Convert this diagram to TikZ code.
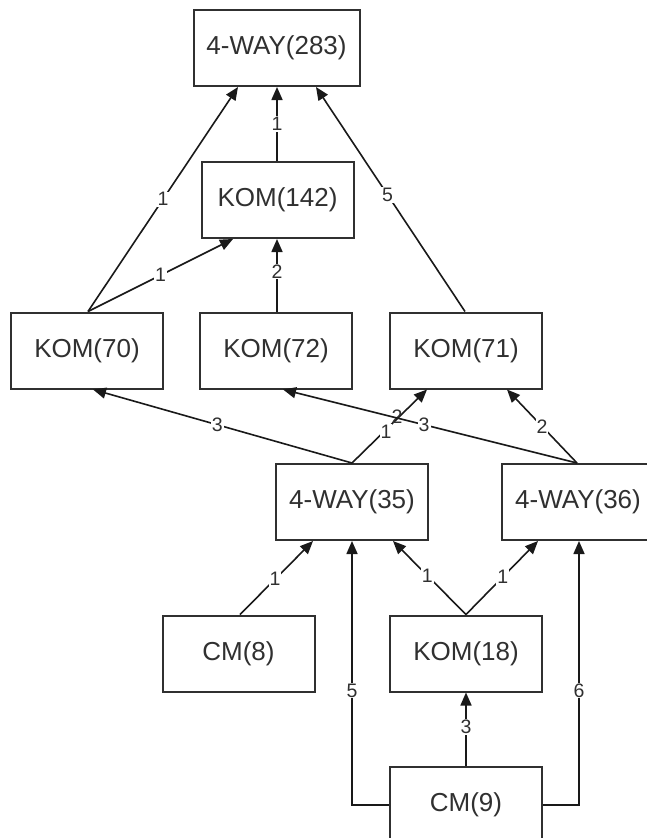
\documentclass[tikz,border=0pt]{standalone}
\usepackage{fontspec}
\setmainfont{Liberation Sans}
\usetikzlibrary{arrows.meta}
\definecolor{ink}{HTML}{303030}
\tikzset{
  box/.style={draw=ink, line width=2pt, fill=white, minimum width=152pt,
    minimum height=76pt, inner sep=0pt, text=ink, font=\fontsize{26}{30}\selectfont},
  link/.style={draw=black!90, line width=1.6pt,
    -{Triangle[length=13pt,width=11pt]}},
  lbl/.style={fill=white, inner sep=1pt, text=ink, font=\fontsize{19.5}{22}\selectfont},
}
\begin{document}
\begin{tikzpicture}[x=1pt,y=-1pt]
\useasboundingbox (0,0) rectangle (647,838);

% nodes
\node[box, minimum width=166pt] (n283) at (276.5,48) {4-WAY(283)};
\node[box] (k142) at (277.5,200) {KOM(142)};
\node[box] (k70) at (87,350.5) {KOM(70)};
\node[box] (k72) at (276,350.5) {KOM(72)};
\node[box] (k71) at (466,350.5) {KOM(71)};
\node[box] (w35) at (352,502) {4-WAY(35)};
\node[box] (w36) at (578,502) {4-WAY(36)};
\node[box] (cm8) at (238.5,653.5) {CM(8)};
\node[box] (k18) at (466,653.5) {KOM(18)};
\node[box] (cm9) at (466,805) {CM(9)};

% upper level
\draw[link] ([xshift=1pt]k70.north) -- node[lbl,pos=0.5]{1} ([xshift=-38.5pt]n283.south);
\draw[link] ([xshift=1pt]k70.north) -- node[lbl,pos=0.5]{1} ([xshift=-44.5pt]k142.south);
\draw[link] ([xshift=1pt]k72.north) -- node[lbl,pos=0.55]{2} ([xshift=-0.5pt]k142.south);
\draw[link] ([xshift=-0.5pt]k142.north) -- node[lbl,pos=0.5]{1} ([xshift=0.5pt]n283.south);
\draw[link] ([xshift=-1pt]k71.north) -- node[lbl,pos=0.52]{5} ([xshift=39.5pt]n283.south);

% middle level
\draw[link] (w35.north) -- node[lbl,pos=0.4,xshift=4pt,yshift=2pt]{1}
  node[text=ink,font=\fontsize{19.5}{22}\selectfont,inner sep=0pt,pos=0.6,yshift=2pt]{2}
  ([xshift=-39pt]k71.south);
\draw[link] (w35.north) -- node[lbl,pos=0.52]{3} ([xshift=6pt]k70.south);
\draw[link] ([xshift=-1pt]w36.north) -- node[lbl,pos=0.52]{3} ([xshift=7pt]k72.south);
\draw[link] ([xshift=-1pt]w36.north) -- node[lbl,pos=0.5]{2} ([xshift=41pt]k71.south);

% lower level
\draw[link] ([xshift=1.5pt]cm8.north) -- node[lbl,pos=0.48]{1} ([xshift=-39pt]w35.south);
\draw[link] (k18.north) -- node[lbl,pos=0.53]{1} ([xshift=41pt]w35.south);
\draw[link] (k18.north) -- node[lbl,pos=0.51]{1} ([xshift=-40pt]w36.south);
\draw[link] (cm9.west) -| node[lbl,pos=0.717]{5} (w35.south);
\draw[link] (cm9.east) -| node[lbl,pos=0.717]{6} ([xshift=1pt]w36.south);
\draw[link] (cm9.north) -- node[lbl,pos=0.53]{3} (k18.south);
\end{tikzpicture}
\end{document}
